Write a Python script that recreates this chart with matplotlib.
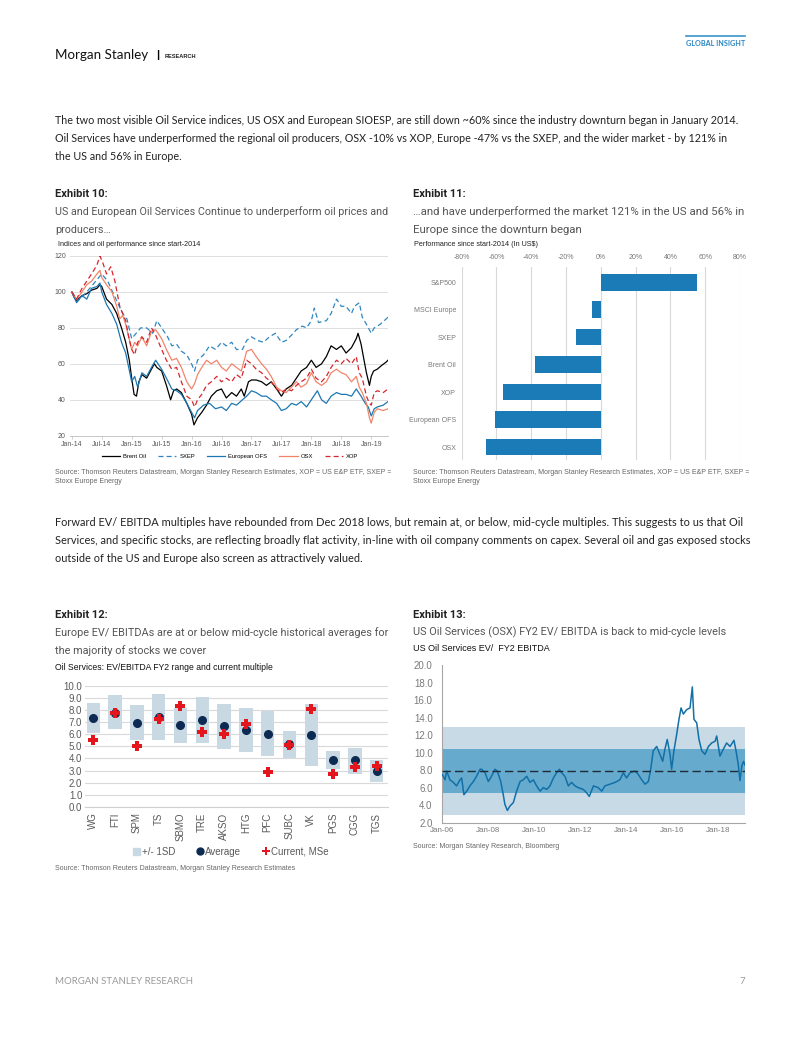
import matplotlib.pyplot as plt
from matplotlib.lines import Line2D
from matplotlib.patches import Patch

W, H = 802, 1037

# ---- Exhibit 10: indices and oil performance since start-2014 (decimal years, index)
brent_t = [2014.0, 2014.04, 2014.08, 2014.17, 2014.25, 2014.33, 2014.42, 2014.47, 2014.5, 2014.58,
           2014.67, 2014.75, 2014.83, 2014.9, 2014.96, 2015.0, 2015.04, 2015.08, 2015.12, 2015.17,
           2015.25, 2015.33, 2015.38, 2015.42, 2015.5, 2015.58, 2015.65, 2015.7, 2015.75, 2015.83,
           2015.92, 2016.0, 2016.04, 2016.1, 2016.17, 2016.25, 2016.33, 2016.42, 2016.5, 2016.58,
           2016.67, 2016.75, 2016.83, 2016.88, 2016.95, 2017.0, 2017.08, 2017.17, 2017.25, 2017.33,
           2017.42, 2017.5, 2017.58, 2017.67, 2017.75, 2017.83, 2017.92, 2018.0, 2018.08, 2018.17,
           2018.25, 2018.33, 2018.42, 2018.5, 2018.58, 2018.67, 2018.75, 2018.78, 2018.83, 2018.88,
           2018.92, 2018.97, 2019.0, 2019.04, 2019.1, 2019.17, 2019.25, 2019.28]
brent_v = [100, 97, 95, 98, 99, 101, 102, 104, 103, 96,
           93, 88, 80, 72, 62, 52, 43, 42, 50, 54,
           52, 57, 60, 58, 56, 48, 40, 45, 46, 44,
           38, 32, 26, 30, 33, 37, 42, 45, 46, 41,
           44, 42, 46, 42, 50, 51, 51, 50, 48, 50,
           46, 42, 46, 48, 52, 56, 58, 62, 58, 60,
           64, 70, 68, 70, 66, 69, 74, 77, 71, 62,
           55, 48, 53, 56, 57, 59, 61, 62]

sxep_t = [2014.0, 2014.1, 2014.25, 2014.4, 2014.5, 2014.6, 2014.75, 2014.85, 2014.92, 2015.0,
          2015.05, 2015.15, 2015.25, 2015.35, 2015.42, 2015.5, 2015.6, 2015.67, 2015.75, 2015.83,
          2015.92, 2016.0, 2016.05, 2016.1, 2016.2, 2016.3, 2016.4, 2016.5, 2016.58, 2016.67,
          2016.75, 2016.85, 2016.92, 2017.0, 2017.1, 2017.2, 2017.3, 2017.4, 2017.5, 2017.58,
          2017.67, 2017.75, 2017.85, 2017.92, 2018.0, 2018.05, 2018.12, 2018.25, 2018.33, 2018.42,
          2018.5, 2018.58, 2018.67, 2018.72, 2018.8, 2018.85, 2018.92, 2019.0, 2019.05, 2019.15,
          2019.25, 2019.28]
sxep_v = [100, 95, 100, 106, 110, 106, 95, 88, 85, 74,
          76, 80, 80, 77, 84, 80, 75, 70, 71, 67,
          65, 60, 56, 62, 65, 70, 68, 72, 70, 72,
          68, 68, 73, 75, 73, 72, 75, 77, 72, 73,
          76, 79, 81, 80, 84, 91, 83, 84, 88, 96,
          92, 92, 88, 92, 94, 86, 82, 77, 80, 82,
          85, 86]

eofs_t = [2014.0, 2014.08, 2014.17, 2014.25, 2014.33, 2014.42, 2014.47, 2014.5, 2014.58, 2014.67,
          2014.75, 2014.83, 2014.9, 2014.95, 2015.0, 2015.05, 2015.1, 2015.17, 2015.25, 2015.33,
          2015.4, 2015.5, 2015.58, 2015.67, 2015.75, 2015.83, 2015.92, 2016.0, 2016.05, 2016.1,
          2016.2, 2016.3, 2016.4, 2016.5, 2016.58, 2016.67, 2016.75, 2016.85, 2016.92, 2017.0,
          2017.08, 2017.17, 2017.25, 2017.33, 2017.42, 2017.5, 2017.58, 2017.67, 2017.75, 2017.83,
          2017.92, 2018.0, 2018.1, 2018.17, 2018.25, 2018.33, 2018.42, 2018.5, 2018.58, 2018.67,
          2018.75, 2018.83, 2018.9, 2018.95, 2019.0, 2019.05, 2019.1, 2019.2, 2019.28]
eofs_v = [100, 94, 98, 96, 102, 103, 105, 100, 93, 88,
          82, 72, 66, 58, 50, 53, 47, 55, 53, 58,
          62, 57, 52, 46, 45, 43, 38, 33, 30, 34,
          37, 38, 35, 36, 34, 38, 37, 40, 42, 45,
          44, 42, 42, 40, 38, 34, 35, 38, 37, 39,
          36, 40, 45, 40, 38, 42, 44, 43, 43, 42,
          46, 42, 38, 36, 31, 35, 36, 37, 39]

osx_t = [2014.0, 2014.08, 2014.17, 2014.25, 2014.33, 2014.42, 2014.47, 2014.5, 2014.58, 2014.67,
         2014.75, 2014.8, 2014.85, 2014.9, 2014.95, 2015.0, 2015.05, 2015.1, 2015.17, 2015.25,
         2015.33, 2015.4, 2015.5, 2015.58, 2015.67, 2015.75, 2015.83, 2015.92, 2016.0, 2016.05,
         2016.1, 2016.17, 2016.25, 2016.33, 2016.42, 2016.5, 2016.58, 2016.67, 2016.75, 2016.83,
         2016.92, 2017.0, 2017.08, 2017.17, 2017.25, 2017.33, 2017.42, 2017.5, 2017.58, 2017.67,
         2017.75, 2017.83, 2017.92, 2018.0, 2018.08, 2018.17, 2018.25, 2018.33, 2018.42, 2018.5,
         2018.58, 2018.67, 2018.75, 2018.8, 2018.85, 2018.92, 2018.97, 2019.0, 2019.05, 2019.1,
         2019.2, 2019.28]
osx_v = [100, 96, 100, 104, 106, 110, 112, 108, 104, 100,
         92, 85, 87, 82, 75, 68, 72, 70, 75, 70,
         78, 79, 74, 68, 62, 63, 58, 50, 46, 49,
         54, 58, 62, 60, 62, 58, 56, 60, 58, 56,
         67, 68, 64, 60, 57, 53, 47, 45, 44, 47,
         50, 47, 49, 55, 50, 48, 50, 55, 57, 55,
         54, 50, 53, 47, 44, 38, 30, 27, 33, 35,
         34, 35]

xop_t = [2014.0, 2014.08, 2014.17, 2014.25, 2014.33, 2014.42, 2014.47, 2014.52, 2014.58, 2014.65,
         2014.72, 2014.8, 2014.85, 2014.9, 2014.95, 2015.0, 2015.05, 2015.1, 2015.17, 2015.25,
         2015.33, 2015.4, 2015.5, 2015.58, 2015.67, 2015.75, 2015.83, 2015.92, 2016.0, 2016.05,
         2016.1, 2016.17, 2016.25, 2016.33, 2016.42, 2016.5, 2016.58, 2016.67, 2016.75, 2016.83,
         2016.92, 2017.0, 2017.08, 2017.17, 2017.25, 2017.33, 2017.42, 2017.5, 2017.58, 2017.67,
         2017.75, 2017.83, 2017.92, 2018.0, 2018.08, 2018.17, 2018.25, 2018.33, 2018.42, 2018.5,
         2018.58, 2018.67, 2018.75, 2018.8, 2018.85, 2018.92, 2018.97, 2019.0, 2019.05, 2019.1,
         2019.2, 2019.28]
xop_v = [100, 96, 102, 106, 110, 115, 120, 116, 110, 114,
         106, 92, 88, 84, 75, 68, 65, 72, 75, 72,
         80, 76, 68, 62, 57, 58, 50, 42, 40, 36,
         40, 43, 48, 50, 53, 50, 52, 50, 54, 52,
         62, 60, 57, 55, 52, 50, 46, 44, 46, 45,
         48, 50, 52, 57, 52, 50, 53, 58, 62, 60,
         63, 60, 64, 55, 52, 42, 38, 37, 44, 45,
         44, 46]

# ---- Exhibit 11: performance since start-2014 (%)
perf_labels = ['S&P500', 'MSCI Europe', 'SXEP', 'Brent Oil', 'XOP', 'European OFS', 'OSX']
perf_values = [55, -5, -14, -38, -56, -61, -66]

# ---- Exhibit 12: EV/EBITDA FY2 range, average and current
stocks = ['WG', 'FTI', 'SPM', 'TS', 'SBMO', 'TRE', 'AKSO', 'HTG', 'PFC', 'SUBC', 'VK', 'PGS', 'CGG', 'TGS']
sd_low = [6.1, 6.4, 5.5, 5.5, 5.3, 5.3, 4.8, 4.5, 4.2, 4.0, 3.4, 3.1, 2.7, 2.1]
sd_high = [8.6, 9.2, 8.4, 9.3, 8.2, 9.1, 8.5, 8.2, 7.9, 6.3, 8.5, 4.6, 4.9, 3.9]
average = [7.35, 7.75, 6.95, 7.4, 6.75, 7.2, 6.65, 6.35, 6.05, 5.2, 5.95, 3.9, 3.85, 3.0]
current = [5.5, 7.75, 5.05, 7.25, 8.35, 6.15, 6.05, 6.85, 2.9, 5.1, 8.05, 2.7, 3.3, 3.4]

# ---- Exhibit 13: US Oil Services EV / FY2 EBITDA
ev_t = [2006.0, 2006.12, 2006.19, 2006.33, 2006.48, 2006.62, 2006.77, 2006.84, 2006.94, 2007.06,
        2007.2, 2007.35, 2007.49, 2007.64, 2007.71, 2007.86, 2008.0, 2008.14, 2008.29, 2008.39,
        2008.54, 2008.65, 2008.72, 2008.83, 2008.94, 2009.09, 2009.23, 2009.38, 2009.52, 2009.67,
        2009.81, 2009.96, 2010.1, 2010.25, 2010.39, 2010.54, 2010.68, 2010.83, 2010.97, 2011.09,
        2011.19, 2011.33, 2011.48, 2011.62, 2011.77, 2011.91, 2012.13, 2012.28, 2012.39, 2012.57,
        2012.78, 2012.93, 2013.07, 2013.29, 2013.51, 2013.72, 2013.87, 2014.01, 2014.16, 2014.38,
        2014.52, 2014.67, 2014.81, 2014.96, 2015.06, 2015.17, 2015.32, 2015.46, 2015.58, 2015.68,
        2015.78, 2015.9, 2015.97, 2016.07, 2016.19, 2016.29, 2016.38, 2016.48, 2016.62, 2016.77,
        2016.87, 2016.94, 2017.06, 2017.16, 2017.28, 2017.42, 2017.57, 2017.71, 2017.86, 2017.93,
        2018.07, 2018.22, 2018.36, 2018.51, 2018.68, 2018.77, 2018.87, 2018.94, 2019.03, 2019.1,
        2019.15]
ev_v = [7.5, 6.9, 7.9, 6.9, 6.6, 6.2, 6.9, 7.1, 5.2, 5.6,
        6.2, 6.7, 7.3, 8.1, 8.1, 7.7, 6.7, 7.3, 8.1, 7.9,
        6.7, 5.2, 4.1, 3.4, 3.9, 4.3, 5.6, 6.7, 6.9, 7.3,
        6.6, 6.9, 6.2, 5.6, 6.0, 5.8, 6.2, 7.1, 7.7, 8.1,
        7.7, 7.3, 6.2, 6.6, 6.2, 6.0, 5.8, 5.4, 5.0, 6.2,
        6.0, 5.6, 6.2, 6.4, 6.6, 6.9, 7.7, 7.1, 7.7, 7.9,
        7.5, 6.9, 6.4, 6.7, 8.1, 10.2, 10.7, 9.8, 9.0, 10.4,
        11.5, 9.8, 8.1, 10.2, 12.1, 13.8, 15.1, 14.4, 14.9, 15.1,
        17.5, 13.8, 13.4, 11.5, 10.2, 9.8, 10.7, 11.1, 11.3, 11.9,
        9.6, 10.4, 11.1, 10.7, 11.4, 10.2, 8.6, 6.8, 8.6, 9.0,
        8.6]
ev_mean = 7.9
ev_sd = 2.5

BODY = ['Lato', 'DejaVu Sans']
HEAD = ['Roboto', 'DejaVu Sans']
CHART = ['Liberation Sans', 'DejaVu Sans']
GREY = '#595959'

fig = plt.figure(figsize=(W / 100, H / 100), dpi=100)
renderer = fig.canvas.get_renderer()


def txt(x, y, s, **kw):
    kw.setdefault('va', 'center')
    return fig.text(x / W, 1 - y / H, s, **kw)


def fit(t, width):
    # shrink/grow a text so that it spans the given pixel width, return the size used
    bb = t.get_window_extent(renderer)
    size = t.get_fontsize() * width / bb.width
    t.set_fontsize(size)
    return size


def rect(x0, y0, x1, y1):
    return [x0 / W, 1 - y1 / H, (x1 - x0) / W, (y1 - y0) / H]


# header and footer
fit(txt(55, 55, 'Morgan Stanley', fontsize=11, family=BODY, color='#111111'), 93)
txt(156, 55, '|', fontsize=8, fontweight='bold', family=CHART)
fit(txt(165, 56, 'RESEARCH', fontsize=3.8, fontweight='bold', family=CHART, color='#222222'), 32)
fig.add_artist(Line2D([686 / W, 745 / W], [1 - 36 / H, 1 - 36 / H], color='#3a93c8', lw=1.2))
fit(txt(745, 43, 'GLOBAL INSIGHT', fontsize=5.5, fontweight='bold', family=BODY, color='#2a86c0', ha='right'), 59)
fit(txt(55, 982, 'MORGAN STANLEY RESEARCH', fontsize=6.5, family=BODY, color='#9a9a9a'), 138)
txt(745, 982, '7', fontsize=7, family=BODY, color='#9a9a9a', ha='right')

para1 = ['The two most visible Oil Service indices, US OSX and European SIOESP, are still down ~60% since the industry downturn began in January 2014.',
         'Oil Services have underperformed the regional oil producers, OSX -10% vs XOP, Europe -47% vs the SXEP, and the wider market - by 121% in',
         'the US and 56% in Europe.']
para2 = ['Forward EV/ EBITDA multiples have rebounded from Dec 2018 lows, but remain at, or below, mid-cycle multiples. This suggests to us that Oil',
         'Services, and specific stocks, are reflecting broadly flat activity, in-line with oil company comments on capex. Several oil and gas exposed stocks',
         'outside of the US and Europe also screen as attractively valued.']
for para, y0 in ((para1, 120), (para2, 522)):
    size = fit(txt(55, y0, para[0], fontsize=9, family=BODY, color='#222222'), 688)
    for i, line in enumerate(para[1:], start=1):
        txt(55, y0 + 18.5 * i, line, fontsize=size, family=BODY, color='#222222')


def exhibit(x, y, name, lines, first_width):
    txt(x, y, name, fontsize=8, fontweight='bold', family=HEAD, color='#222222')
    size = fit(txt(x, y + 17.5, lines[0], fontsize=8, family=HEAD, color='#555555'), first_width)
    for i, line in enumerate(lines[1:], start=1):
        txt(x, y + 17.5 + 18.5 * i, line, fontsize=size, family=HEAD, color='#555555')


exhibit(55, 194, 'Exhibit 10:', ['US and European Oil Services Continue to underperform oil prices and', 'producers…'], 333)
exhibit(413, 194, 'Exhibit 11:', ['…and have underperformed the market 121% in the US and 56% in', 'Europe since the downturn began'], 332)
exhibit(55, 615, 'Exhibit 12:', ['Europe EV/ EBITDAs are at or below mid-cycle historical averages for', 'the majority of stocks we cover'], 333)
exhibit(413, 615, 'Exhibit 13:', ['US Oil Services (OSX) FY2 EV/ EBITDA is back to mid-cycle levels'], 315)

src_a = 'Source: Thomson Reuters Datastream, Morgan Stanley Research Estimates, XOP = US E&P ETF, SXEP ='
for x in (55, 413):
    txt(x, 472, src_a, fontsize=5, family=CHART, color='#666666')
    txt(x, 481.5, 'Stoxx Europe Energy', fontsize=5, family=CHART, color='#666666')
txt(55, 868, 'Source: Thomson Reuters Datastream, Morgan Stanley Research Estimates', fontsize=5, family=CHART, color='#666666')
txt(413, 846, 'Source: Morgan Stanley Research, Bloomberg', fontsize=5, family=CHART, color='#666666')

# ---- Exhibit 10 chart
txt(58, 245, 'Indices and oil performance since start-2014', fontsize=5.2, family=CHART, color='#222222')
ax1 = fig.add_axes(rect(70, 256, 388, 435.7))
ax1.set_xlim(2013.97, 2019.28)
ax1.set_ylim(20, 120)
ax1.set_yticks(range(20, 121, 20))
ax1.yaxis.grid(True, color='#d9d9d9', lw=0.6)
ax1.set_axisbelow(True)
for s in ('top', 'right', 'left'):
    ax1.spines[s].set_visible(False)
ax1.spines['bottom'].set_color('#bfbfbf')
ax1.spines['bottom'].set_linewidth(0.6)
xt = [2014 + 0.5 * k for k in range(11)]
ax1.set_xticks(xt)
ax1.set_xticklabels([('Jan-' if k % 2 == 0 else 'Jul-') + str(14 + k // 2) for k in range(11)])
ax1.tick_params(axis='x', length=2, width=0.5, color='#bfbfbf', labelsize=5, labelcolor=GREY, pad=2)
ax1.tick_params(axis='y', length=0, labelsize=5, labelcolor=GREY, pad=3)
for lab in ax1.get_xticklabels() + ax1.get_yticklabels():
    lab.set_family(CHART)
ax1.plot(brent_t, brent_v, color='black', lw=0.9, label='Brent Oil')
ax1.plot(sxep_t, sxep_v, color='#2f86c0', lw=0.9, ls=(0, (4, 2.5)), label='SXEP')
ax1.plot(eofs_t, eofs_v, color='#1b78b2', lw=0.9, label='European OFS')
ax1.plot(osx_t, osx_v, color='#f2846a', lw=0.9, label='OSX')
ax1.plot(xop_t, xop_v, color='#d7262e', lw=0.9, ls=(0, (4, 2.5)), label='XOP')
ax1.legend(ncol=5, loc='center', bbox_to_anchor=(230 / W, 1 - 456.7 / H), bbox_transform=fig.transFigure,
           frameon=False, prop={'family': CHART, 'size': 4.2}, handlelength=3.2, columnspacing=2.0,
           handletextpad=0.5)

# ---- Exhibit 11 chart
txt(414, 245, 'Performance since start-2014 (In US$)', fontsize=5.2, family=CHART, color='#222222')
ax2 = fig.add_axes(rect(461.7, 267, 740, 460))
ypos = list(range(len(perf_labels)))
ax2.barh(ypos, perf_values, height=0.61, color='#1b7bb6', zorder=3)
ax2.set_xlim(-80, 80)
ax2.set_ylim(6.47, -0.55)
ax2.set_xticks(range(-80, 81, 20))
ax2.set_xticklabels([f'{v}%' for v in range(-80, 81, 20)])
ax2.xaxis.tick_top()
ax2.xaxis.grid(True, color='#d9d9d9', lw=0.8)
ax2.set_yticks(ypos)
ax2.set_yticklabels(perf_labels)
ax2.tick_params(axis='both', length=0, labelsize=5, labelcolor='#7a7a7a')
ax2.tick_params(axis='x', pad=4)
ax2.tick_params(axis='y', pad=4)
for lab in ax2.get_xticklabels() + ax2.get_yticklabels():
    lab.set_family(CHART)
for s in ax2.spines.values():
    s.set_visible(False)

# ---- Exhibit 12 chart
txt(55, 667, 'Oil Services: EV/EBITDA FY2 range and current multiple', fontsize=6.2, family=CHART, color='#111111')
ax3 = fig.add_axes(rect(85, 685.7, 388, 807))
xs = list(range(len(stocks)))
ax3.bar(xs, [h - l for h, l in zip(sd_high, sd_low)], bottom=sd_low, width=0.62, color='#c9d9e4', zorder=2,
        label='+/- 1SD')
ax3.plot(xs, average, 'o', color='#0d2b52', ms=5.5, zorder=4, label='Average')
ax3.plot(xs, current, 'P', color='#e3161d', ms=6.5, mew=0, zorder=5, label='Current, MSe')
ax3.set_ylim(0, 10)
ax3.set_xlim(-0.38, 13.52)
ax3.set_yticks(range(0, 11))
ax3.set_yticklabels([f'{v:.1f}' for v in range(0, 11)])
ax3.yaxis.grid(True, color='#d9d9d9', lw=0.8, zorder=1)
ax3.set_axisbelow(True)
ax3.set_xticks(xs)
ax3.set_xticklabels(stocks, rotation=90)
ax3.tick_params(axis='both', length=0, labelsize=7, labelcolor=GREY)
ax3.tick_params(axis='y', pad=2)
ax3.tick_params(axis='x', pad=4)
for lab in ax3.get_xticklabels() + ax3.get_yticklabels():
    lab.set_family(CHART)
for s in ('top', 'right', 'left'):
    ax3.spines[s].set_visible(False)
ax3.spines['bottom'].set_color('#d0d0d0')
handles = [Patch(color='#c9d9e4'),
           Line2D([], [], marker='o', ls='', color='#0d2b52', ms=5),
           Line2D([], [], marker='P', ls='', color='#e3161d', ms=6, mew=0)]
ax3.legend(handles, ['+/- 1SD', 'Average', 'Current, MSe'], ncol=3, loc='center',
           bbox_to_anchor=(231 / W, 1 - 851.7 / H), bbox_transform=fig.transFigure, frameon=False,
           prop={'family': CHART, 'size': 7}, labelcolor=GREY, handlelength=0.7, handletextpad=0.2,
           columnspacing=2.2)

# ---- Exhibit 13 chart
txt(413, 648.5, 'US Oil Services EV/  FY2 EBITDA', fontsize=6.5, family=CHART, color='#111111')
ax4 = fig.add_axes(rect(442.3, 665, 745, 822.7))
ax4.set_xlim(2006.0, 2019.16)
ax4.set_ylim(2, 20)
ax4.axhspan(ev_mean - 2 * ev_sd, ev_mean + 2 * ev_sd, color='#c8dae6', lw=0, zorder=1)
ax4.axhspan(ev_mean - ev_sd, ev_mean + ev_sd, color='#66abce', lw=0, zorder=2)
ax4.axhline(ev_mean, color='#1f2b36', lw=1.0, ls=(0, (6, 3)), zorder=4)
ax4.plot(ev_t, ev_v, color='#1170a8', lw=1.1, zorder=3)
ax4.set_yticks(range(2, 21, 2))
ax4.set_yticklabels([f'{v:.1f}' for v in range(2, 21, 2)])
ax4.set_xticks(range(2006, 2019, 2))
ax4.set_xticklabels([f'Jan-{y % 100:02d}' for y in range(2006, 2019, 2)])
ax4.tick_params(axis='both', length=0, labelcolor='#7a7a7a')
ax4.tick_params(axis='y', labelsize=7, pad=7)
ax4.tick_params(axis='x', labelsize=5.8, pad=3)
for lab in ax4.get_xticklabels() + ax4.get_yticklabels():
    lab.set_family(CHART)
for s in ('top', 'right'):
    ax4.spines[s].set_visible(False)
for s in ('left', 'bottom'):
    ax4.spines[s].set_color('#a6a6a6')
    ax4.spines[s].set_linewidth(0.8)

fig.savefig('out.png', dpi=100)
